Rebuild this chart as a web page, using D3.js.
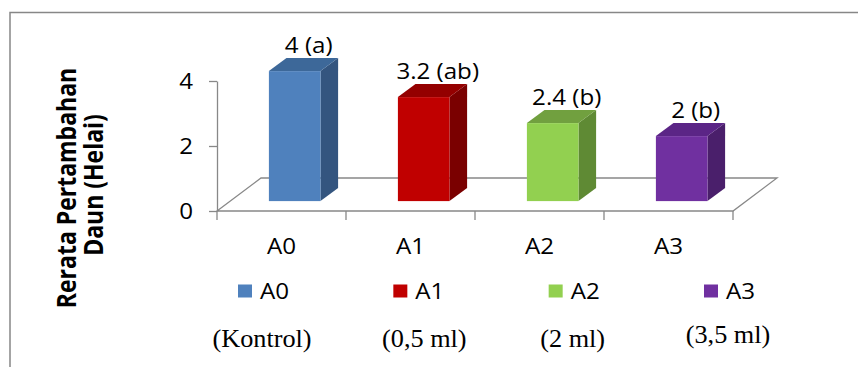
<!DOCTYPE html>
<html>
<head>
<meta charset="utf-8">
<script src="https://cdn.jsdelivr.net/npm/d3@7"></script>
<style>
  body { margin: 0; background: #fff; }
  #chart { width: 858px; height: 367px; }
  text { font-family: "Open Sans", sans-serif; fill: #000; }
  .note { font-family: "Liberation Serif", "Times New Roman", serif; }
</style>
</head>
<body>
<div id="chart"></div>
<script>
// data
const categories = ["A0", "A1", "A2", "A3"];
const values = [4, 3.2, 2.4, 2];
const letters = ["a", "ab", "b", "b"];
const notes = ["(Kontrol)", "(0,5 ml)", "(2 ml)", "(3,5 ml)"];
const yTicks = [0, 2, 4];
const frontColors = ["#4f81bd", "#c00000", "#92d050", "#7030a0"];
const sideColors = ["#34557f", "#7a0000", "#5f8a34", "#4a1f6b"];
const topColors = ["#3d6899", "#940000", "#71a03f", "#5b2586"];

const width = 858, height = 367;
const stretch = 1.15;   // the original text is drawn wide
const fontSize = 21;
const grey = "#888";

const svg = d3.select("#chart").append("svg")
    .attr("width", width)
    .attr("height", height);

/* outer frame (runs off the right and bottom edges) */
svg.append("rect")
    .attr("x", 10).attr("y", 12.5)
    .attr("width", 900).attr("height", 400)
    .attr("fill", "none").attr("stroke", "#878787").attr("stroke-width", 1.5);

/* SCALES */
const x = d3.scaleBand().domain(categories).range([217, 733]);
const y = d3.scaleLinear().domain([0, 4]).range([211, 81]);
const depth = {dx: 44, dy: -33};          // floor depth
const barFront = 0.3, barDepth = 0.4;     // bar sits in the middle of the floor
const barWidth = x.bandwidth() * 0.4;

/* FLOOR */
const x0 = x.range()[0], x1 = x.range()[1], yb = y(0);
svg.append("polygon")
    .attr("points", [[x0, yb], [x0 + depth.dx, yb + depth.dy], [x1 + depth.dx, yb + depth.dy], [x1, yb]].join(" "))
    .attr("fill", "none").attr("stroke", grey).attr("stroke-width", 1.3);

/* Y AXIS */
const yAxis = svg.append("g")
    .attr("transform", `translate(${x0},0)`)
    .call(d3.axisLeft(y).tickValues(yTicks).tickFormat(d3.format("d"))
        .tickSize(8).tickSizeOuter(0).tickPadding(0));
yAxis.selectAll("path, line").attr("stroke", grey).attr("stroke-width", 1.3);
yAxis.selectAll("text")
    .attr("x", null).attr("dy", null)
    .attr("font-size", fontSize).attr("font-family", "Open Sans")
    .attr("text-anchor", "end")
    .attr("transform", `translate(-24,7.5) scale(${stretch},1)`);

/* X AXIS: ticks at the band edges, labels in the middle */
const edges = categories.map(c => x(c)).concat([x1]);
svg.selectAll(".xtick").data(edges).enter().append("line")
    .attr("x1", d => d).attr("x2", d => d)
    .attr("y1", yb).attr("y2", yb + 9)
    .attr("stroke", grey).attr("stroke-width", 1.3);

svg.selectAll(".xlabel").data(categories).enter().append("text")
    .attr("font-size", fontSize)
    .attr("text-anchor", "middle")
    .attr("transform", d => `translate(${x(d) + x.bandwidth() / 2},254) scale(${stretch},1)`)
    .text(d => d);

/* BARS */
const bars = svg.selectAll(".bar").data(values).enter().append("g");

function corner(i) {
    const left = x(categories[i]) + (x.bandwidth() - barWidth) / 2 + barFront * depth.dx;
    const base = yb + barFront * depth.dy;
    const top = base - (yb - y(values[i]));
    return {left, right: left + barWidth, base, top,
            ddx: barDepth * depth.dx, ddy: barDepth * depth.dy};
}

bars.append("polygon")   // side
    .attr("points", (d, i) => { const c = corner(i);
        return [[c.right, c.base], [c.right + c.ddx, c.base + c.ddy], [c.right + c.ddx, c.top + c.ddy], [c.right, c.top]].join(" "); })
    .attr("fill", (d, i) => sideColors[i]);

bars.append("polygon")   // top
    .attr("points", (d, i) => { const c = corner(i);
        return [[c.left, c.top], [c.left + c.ddx, c.top + c.ddy], [c.right + c.ddx, c.top + c.ddy], [c.right, c.top]].join(" "); })
    .attr("fill", (d, i) => topColors[i]);

bars.append("rect")      // front
    .attr("x", (d, i) => corner(i).left)
    .attr("y", (d, i) => corner(i).top)
    .attr("width", barWidth)
    .attr("height", (d, i) => corner(i).base - corner(i).top)
    .attr("fill", (d, i) => frontColors[i]);

/* DATA LABELS */
bars.append("text")
    .attr("font-size", fontSize)
    .attr("text-anchor", "middle")
    .attr("transform", (d, i) => { const c = corner(i);
        return `translate(${(c.left + c.right) / 2 + 14},${c.top + c.ddy - 5}) scale(${stretch},1)`; })
    .text((d, i) => `${d} (${letters[i]})`);

/* LEGEND */
const lx = d3.scalePoint().domain(categories).range([238, 704]);
const legend = svg.selectAll(".legend").data(categories).enter().append("g")
    .attr("transform", d => `translate(${lx(d)},284.5)`);
legend.append("rect")
    .attr("width", 14).attr("height", 13)
    .attr("fill", (d, i) => frontColors[i]);
legend.append("text")
    .attr("font-size", fontSize)
    .attr("transform", `translate(22,14.5) scale(${stretch},1)`)
    .text(d => d);

/* TREATMENT NOTES */
svg.selectAll(".note").data(notes).enter().append("text")
    .attr("class", "note")
    .attr("font-size", 25)
    .attr("text-anchor", "middle")
    .attr("transform", (d, i) => `translate(${lx(categories[i]) + (i === 1 ? 31 : 24)},${i === 3 ? 343 : 347}) scale(1.05,1)`)
    .text(d => d);

/* Y AXIS TITLE */
const titleLines = ["Rerata Pertambahan", "Daun (Helai)"];
svg.selectAll(".ytitle").data(titleLines).enter().append("text")
    .attr("font-size", 23)
    .attr("font-weight", "bold")
    .attr("text-anchor", "middle")
    .attr("transform", (d, i) => `translate(${76 + i * 26.5},${188 - i * 3}) scale(${stretch},1) rotate(-90)`)
    .text(d => d);
</script>
</body>
</html>
